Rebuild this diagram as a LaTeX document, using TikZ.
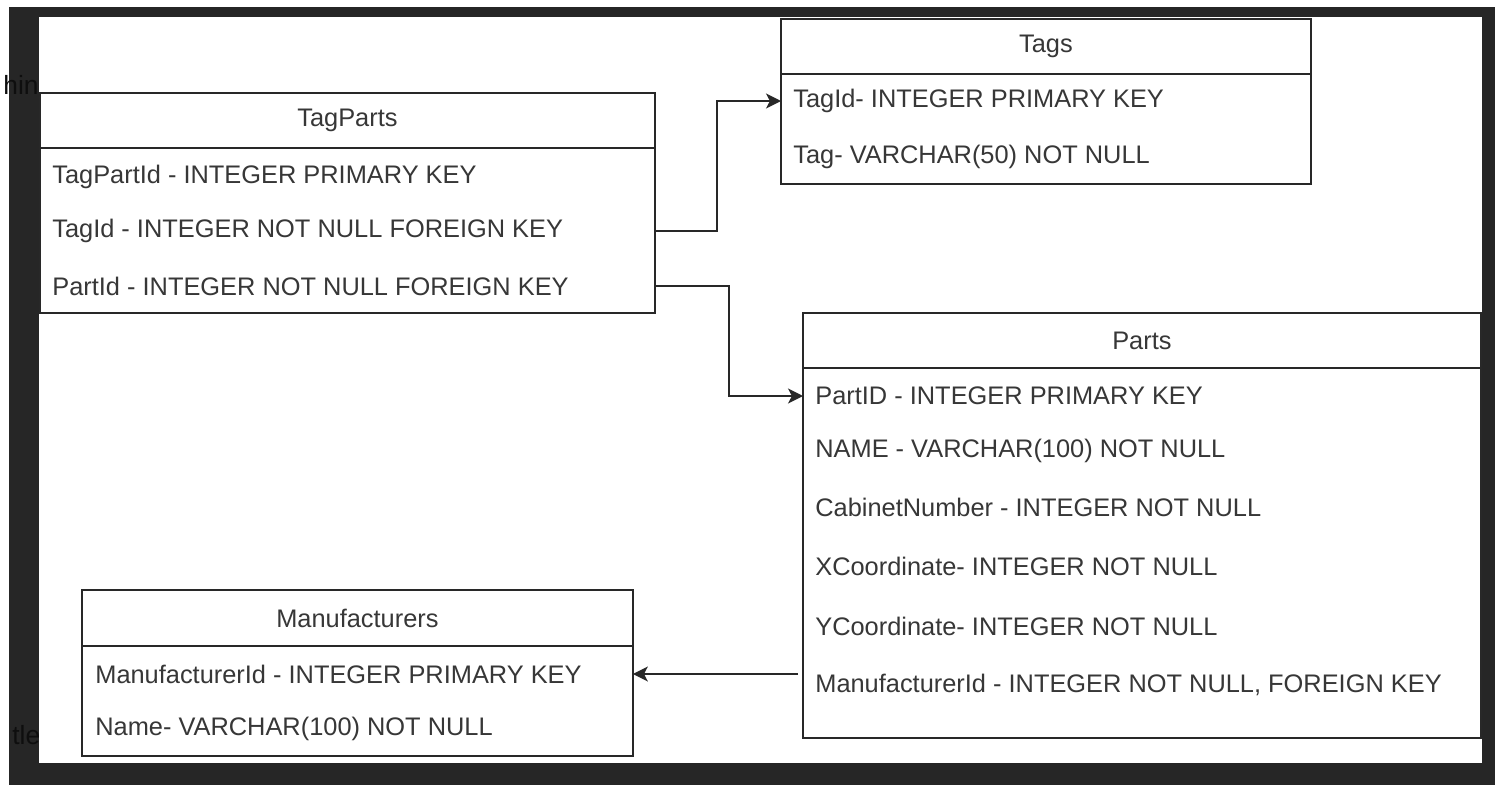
\documentclass[tikz,border=0pt]{standalone}
\usepackage{fontspec}
\setmainfont{Liberation Sans}
\usetikzlibrary{positioning,arrows.meta}

\definecolor{framec}{RGB}{38,38,38}
\definecolor{shadowtxt}{RGB}{14,14,14}
\definecolor{linec}{RGB}{40,40,40}
\definecolor{textc}{RGB}{55,55,55}

\tikzset{
  tblfont/.style={font=\fontsize{14.45}{17}\selectfont},
  hdr/.style={draw=linec, line width=1.1pt, fill=white, inner sep=0pt,
    outer sep=0pt, text=textc, tblfont, anchor=north west},
  tblbody/.style={draw=linec, line width=1.1pt, fill=white, inner sep=0pt,
    outer sep=0pt, below=0pt of #1, anchor=north west},
  field/.style={anchor=west, inner sep=0pt, text=textc, tblfont},
  link/.style={draw=linec, line width=1.1pt,
    -{Stealth[length=8.5pt, width=8.5pt, inset=2.2pt]}},
}

\begin{document}
\begin{tikzpicture}[x=0.02cm, y=-0.02cm]
    % Screenshot frame
    \useasboundingbox (0,0) rectangle (1495,785);
    \fill[white] (0,0) rectangle (1495,785);
    \fill[framec] (9,7) rectangle (1495,785);
    \node[shadowtxt, anchor=base west, inner sep=0pt, font=\fontsize{15}{18}\selectfont] (bgHin) at (3,94) {hin};
    \node[shadowtxt, anchor=base west, inner sep=0pt, font=\fontsize{15}{18}\selectfont] (bgTle) at (12,744) {tle};
    \fill[white] (39,17) rectangle (1482,763);

    % TagParts
    \node[hdr, minimum width=12.3cm, minimum height=1.1cm] (tpHead) at (40,93) {TagParts};
    \node[tblbody=tpHead.south west, minimum width=12.3cm, minimum height=3.3cm] (tpBody) {};
    \node[field] (tpTagPartId) at (52,177) {TagPartId - INTEGER PRIMARY KEY};
    \node[field] (tpTagId) at (52,231) {TagId - INTEGER NOT NULL FOREIGN KEY};
    \node[field] (tpPartId) at (52,286) {PartId - INTEGER NOT NULL FOREIGN KEY};

    % Tags
    \node[hdr, minimum width=10.6cm, minimum height=1.1cm] (tgHead) at (781,19) {Tags};
    \node[tblbody=tgHead.south west, minimum width=10.6cm, minimum height=2.2cm] (tgBody) {};
    \node[field] (tgTagId) at (793,101) {TagId- INTEGER PRIMARY KEY};
    \node[field] (tgTag) at (793,157) {Tag- VARCHAR(50) NOT NULL};

    % Parts
    \node[hdr, minimum width=13.56cm, minimum height=1.1cm] (ptHead) at (803,313) {Parts};
    \node[tblbody=ptHead.south west, minimum width=13.56cm, minimum height=7.4cm] (ptBody) {};
    \node[field] (ptPartId) at (815,396) {PartID - INTEGER PRIMARY KEY};
    \node[field] (ptName) at (815,451) {NAME - VARCHAR(100) NOT NULL};
    \node[field] (ptCabinet) at (815,507) {CabinetNumber - INTEGER NOT NULL};
    \node[field] (ptXCoord) at (815,566) {XCoordinate- INTEGER NOT NULL};
    \node[field] (ptYCoord) at (815,626) {YCoordinate- INTEGER NOT NULL};
    \node[field] (ptManId) at (815,685) {ManufacturerId - INTEGER NOT NULL, FOREIGN KEY};

    % Manufacturers
    \node[hdr, minimum width=11.02cm, minimum height=1.12cm] (mfHead) at (82,590) {Manufacturers};
    \node[tblbody=mfHead.south west, minimum width=11.02cm, minimum height=2.2cm] (mfBody) {};
    \node[field] (mfManId) at (95,674) {ManufacturerId - INTEGER PRIMARY KEY};
    \node[field] (mfName) at (95,729) {Name- VARCHAR(100) NOT NULL};

    % Relations
    \draw[link] (tpTagId -| tpBody.east) -- ++(62,0) |- (tgTagId -| tgBody.west);
    \draw[link] (tpPartId -| tpBody.east) -- ++(74,0) |- (ptPartId -| ptBody.west);
    \draw[link] ([xshift=-0.1cm]mfManId -| ptBody.west) -- (mfManId -| mfBody.east);
\end{tikzpicture}
\end{document}
